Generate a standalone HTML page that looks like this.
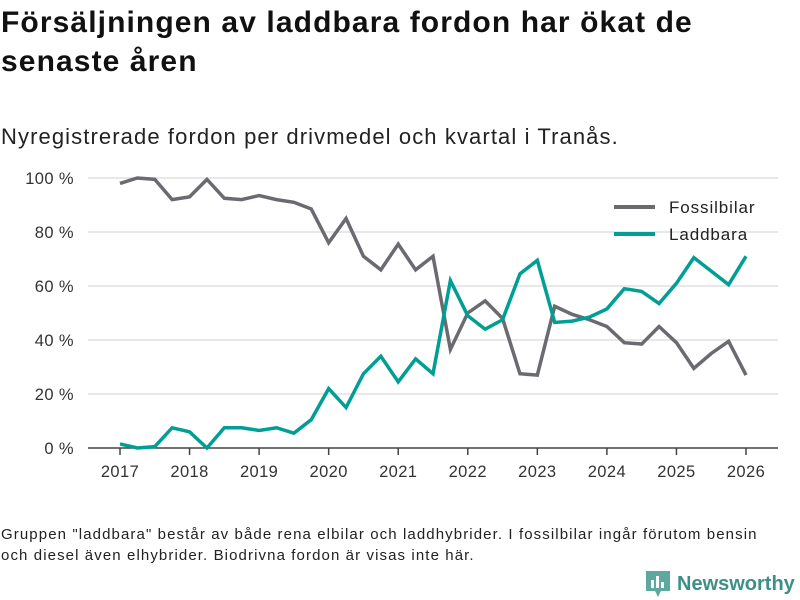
<!DOCTYPE html>
<html><head><meta charset="utf-8"><style>
body{margin:0;width:800px;height:600px;background:#fff;font-family:"Liberation Sans","DejaVu Sans",sans-serif;color:#111;position:relative;overflow:hidden}
.t{position:absolute;left:1px;top:3px;font-size:30px;letter-spacing:1.1px;font-weight:bold;line-height:39px;color:#111}
.s{position:absolute;left:1px;top:124px;font-size:22px;letter-spacing:1.1px;color:#222}
.f{position:absolute;left:1px;top:524px;font-size:15px;letter-spacing:1.1px;line-height:21px;color:#222}
.logo{position:absolute;left:645px;top:570px;display:flex;align-items:center;font-size:20px;font-weight:bold;color:#3d8f88}
</style></head><body>
<div class="t">Försäljningen av laddbara fordon har ökat de<br>senaste åren</div>
<div class="s">Nyregistrerade fordon per drivmedel och kvartal i Tranås.</div>
<svg id="c" width="800" height="600" style="position:absolute;left:0;top:0"></svg>
<div class="f">Gruppen "laddbara" består av både rena elbilar och laddhybrider. I fossilbilar ingår förutom bensin<br>och diesel även elhybrider. Biodrivna fordon är visas inte här.</div>
<div class="logo"><svg width="26" height="28" style="margin-right:6px"><path d="M1 1h24v20h-9l-3 6-3-6H1z" fill="#5fa8a0"/><rect x="6" y="10" width="3" height="8" fill="#fff"/><rect x="11" y="6" width="3" height="12" fill="#fff"/><rect x="16" y="12" width="3" height="6" fill="#fff"/></svg>Newsworthy</div>
<script>
const years=[2017,2018,2019,2020,2021,2022,2023,2024,2025,2026];
const yTicks=[0,20,40,60,80,100];
const fossil=[98,100,99.5,92,93,99.5,92.5,92,93.5,92,91,88.5,76,85,71,66,75.5,66,71,36.5,50,54.5,48,27.5,27,52.5,49.5,47.5,45,39,38.5,45,39,29.5,35,39.5,27];
const laddbara=[1.5,0,0.5,7.5,6,0,7.5,7.5,6.5,7.5,5.5,10.5,22,15,27.5,34,24.5,33,27.5,62,49,44,47.5,64.5,69.5,46.5,47,48.5,51.5,59,58,53.5,61,70.5,65.5,60.5,71];
const svg=document.getElementById('c');const NS='http://www.w3.org/2000/svg';
const x=t=>120+(t-2017)*(746-120)/9;
const y=v=>448-v*2.7;
function el(tag,a,txt){const e=document.createElementNS(NS,tag);for(const k in a)e.setAttribute(k,a[k]);if(txt!=null)e.textContent=txt;svg.appendChild(e);return e;}
yTicks.forEach(v=>{
 if(v>0){const g=el('line',{x1:88,x2:778,y1:y(v),y2:y(v),stroke:'#e0e0e0','stroke-width':1.5});
 
 }
 const l=el('text',{x:74,y:y(v)+6,'text-anchor':'end','font-size':16.5,fill:'#333','letter-spacing':0.4},v+' %');
 
 
});
const ax=el('line',{x1:88,x2:778,y1:448,y2:448,stroke:'#444','stroke-width':1.5});


years.forEach(t=>{
 const tk=el('line',{x1:x(t),x2:x(t),y1:448,y2:455,stroke:'#444','stroke-width':1.5});
 
 
 const l=el('text',{x:x(t),y:477,'text-anchor':'middle','font-size':16.5,fill:'#333','letter-spacing':0.4},t);
 
 
});
function line(d,col,name){
 const p=el('polyline',{points:d.map((v,i)=>x(2017+i/4)+','+y(v)).join(' '),fill:'none',stroke:col,'stroke-width':3.5,'stroke-linejoin':'miter'});
 
 
}
line(fossil,'#6b6a70','fossilbilar-line');
line(laddbara,'#009e94','laddbara-line');
[['Fossilbilar','#6b6a70',207],['Laddbara','#009e94',234]].forEach(([n,c,yy])=>{
 const s=el('line',{x1:614,x2:655,y1:yy,y2:yy,stroke:c,'stroke-width':4});
 
 
 const t=el('text',{x:669,y:yy+6,'font-size':17,fill:'#222','letter-spacing':0.9},n);
 
 
});
</script>
</body></html>
